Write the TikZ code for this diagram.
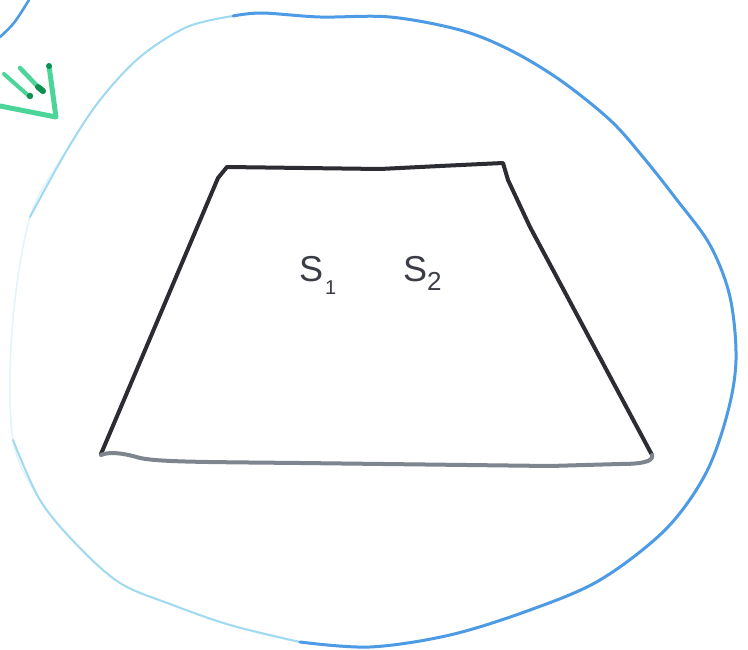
\documentclass[tikz,border=0pt]{standalone}
\usepackage{fontspec}
\setsansfont{Liberation Sans}
\begin{document}
\begin{tikzpicture}[x=1pt,y=-1pt,
  trap/.style={line width=4pt,line join=round,line cap=round},
  blueline/.style={line width=3pt,color=bluepen,line cap=round},
  lightblue/.style={line width=2pt,color=cyanpen,line cap=round},
  faintblue/.style={line width=1.5pt,color=faintpen,line cap=round},
  greenpen/.style={line width=5pt,color=greenink,line cap=round,line join=round},
  lbl/.style={font=\sffamily\fontsize{36}{36}\selectfont,text=labelgray,inner sep=0pt}]
\definecolor{bluepen}{HTML}{4C9BE4}
\definecolor{cyanpen}{HTML}{9FDAF0}
\definecolor{faintpen}{HTML}{E2F4FA}
\definecolor{greenink}{HTML}{4CD598}
\definecolor{darkgreen}{HTML}{0E9050}
\definecolor{labelgray}{HTML}{3A3D45}
\definecolor{trapdark}{HTML}{2B2D33}
\definecolor{trapgray}{HTML}{7E858E}
\useasboundingbox[fill=white] (0,0) rectangle (748,650);

% faint full closed curve
\draw[faintblue] plot[smooth cycle,tension=0.55] coordinates {(233,16) (262,13) (320,17) (390,17) (460,30) (510,50) (560,80) (610,120) (643,157) (677,200) (710,245) (730,297) (736,360) (727,415) (705,475) (665,530) (600,580) (530,610) (450,635) (370,647) (300,642) (230,625) (170,604) (120,583) (77,545) (40,500) (13,440) (12,330) (30,217) (67,150) (100,100) (140,57) (187,27)};
% upper-left visible part
\draw[lightblue] plot[smooth,tension=0.55] coordinates {(30,217) (67,150) (100,100) (140,57) (187,27) (233,16)};
% lower-left visible part
\draw[lightblue] plot[smooth,tension=0.55] coordinates {(13,440) (40,500) (77,545) (120,583) (170,604) (230,625) (300,642)};
% right and top, darker
\draw[blueline] plot[smooth,tension=0.55] coordinates {(233,16) (262,13) (320,17) (390,17) (460,30) (510,50) (560,80) (610,120) (643,157) (677,200) (710,245) (730,297) (736,360) (727,415) (705,475) (665,530) (600,580) (530,610) (450,635) (370,647) (300,642)};
% corner arc
\draw[blueline,line width=2.6pt] (0,37) .. controls (14,24) .. (29,0);

% green arrow
\draw[greenpen] (49,66) -- (56,117) -- (0,106);
\draw[greenpen,line width=4pt] (4,74) -- (30,97);
\draw[greenpen,line width=4.5pt] (20,68) -- (43,92);
\fill[darkgreen] (30,96) circle (3.2pt);
\draw[darkgreen,line width=6pt,line cap=round] (38,87) -- (43,91);
\fill[darkgreen] (49,66) circle (3pt);

% trapezoid
\draw[trap,color=trapdark] (101,454) -- (218,178) -- (227,167) -- (380,169) -- (440,166) -- (503,163) -- (508,180) -- (530,227) -- (652,455);
\draw[trap,color=trapgray] (652,455) .. controls (654,462) and (640,464) .. (620,464) -- (550,466) -- (300,463) .. controls (200,462) and (160,462) .. (140,458) .. controls (120,452) and (108,452) .. (101,455);

% labels
\node[lbl,anchor=base west] (s1) at (299,282) {S\hspace{2pt}\raisebox{-13pt}{\fontsize{20}{20}\selectfont 1}};
\node[lbl,anchor=base west] (s2) at (403,282) {S\raisebox{-9pt}{\fontsize{26}{26}\selectfont 2}};
\end{tikzpicture}
\end{document}
